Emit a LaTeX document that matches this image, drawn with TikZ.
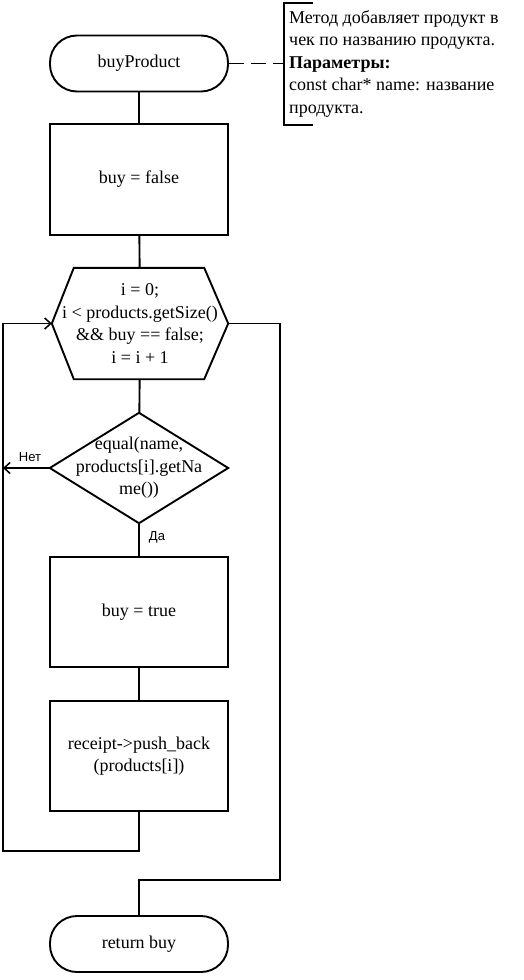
\documentclass[tikz,border=0pt]{standalone}
\usepackage{fontspec}
\setmainfont{Liberation Serif}
\newfontfamily\labfont{Liberation Sans}
\usetikzlibrary{arrows.meta}
\begin{document}
\begin{tikzpicture}[x=1pt,y=-1pt,
  every node/.style={font=\fontsize{18}{22.5}\selectfont},
  ln/.style={line width=1.9pt},
  term/.style={draw,ln,rounded corners=27pt,minimum width=178pt,minimum height=56pt,inner sep=0pt},
  proc/.style={draw,ln,minimum width=178pt,minimum height=110pt,inner sep=0pt,align=center},
  shp/.style={minimum width=178pt,minimum height=110pt,inner sep=0pt,align=center},
  arr/.style={ln,-{Straight Barb[length=6pt,width=11pt,line width=1.5pt]}},
  lab/.style={font=\labfont\fontsize{13}{15}\selectfont}]
\useasboundingbox (0,0) rectangle (523,980);

\node[term] (start) at (139,63.5) {buyProduct};
\node[proc,minimum height=111pt] (init) at (139,179.5) {buy = false};
\node[shp,minimum width=176pt,minimum height=111pt] (hex) at (140,323.5)
  {i = 0;\\ i < products.getSize()\\ \&\& buy == false;\\ i = i + 1};
\draw[ln] (hex.west) -- ([xshift=22pt]hex.north west) -- ([xshift=-24pt]hex.north east)
  -- (hex.east) -- ([xshift=-24pt]hex.south east) -- ([xshift=22pt]hex.south west) -- cycle;
\node[shp] (dia) at (139,468) {equal(name,\\ products[i].getNa\\ me())};
\draw[ln] (dia.west) -- (dia.north) -- (dia.east) -- (dia.south) -- cycle;
\node[proc] (set) at (139,612) {buy = true};
\node[proc] (push) at (139,756) {receipt->push\_back\\ (products[i])};
\node[term] (ret) at (139,944) {return buy};

% comment
\coordinate (ct) at (284,3);
\coordinate (cb) at (284,125);
\coordinate (cm) at (284,63.5);
\draw[ln] (313,3) -- (ct) -- (cb) -- (313,125);
\node[anchor=west,align=left,inner sep=0pt] (ctext) at (289,63.5)
  {Метод добавляет продукт в\\ чек по названию продукта.\\ \textbf{Параметры:}\\ const char* name: название\\ продукта.};
\draw[ln,dash pattern=on 15pt off 7pt] (start.east) -- (cm);

% main flow
\draw[ln] (start) -- (init);
\draw[ln] (init) -- (hex);
\draw[ln] (hex) -- (dia);
\draw[ln] (dia) -- (set);
\draw[ln] (set) -- (push);

% loop back
\coordinate (lb) at (3,851);
\draw[arr] (push.south) |- (lb) |- (hex.west);

% exit
\coordinate (rb) at (280,880);
\draw[ln] (hex.east) -| (rb) -| (ret.north);

% no branch
\coordinate (nl) at (3,468);
\draw[arr] (dia.west) -- (nl);
\node[lab] (no) at (30,457) {Нет};
\node[lab] (yes) at (157,537) {Да};
\end{tikzpicture}
\end{document}
